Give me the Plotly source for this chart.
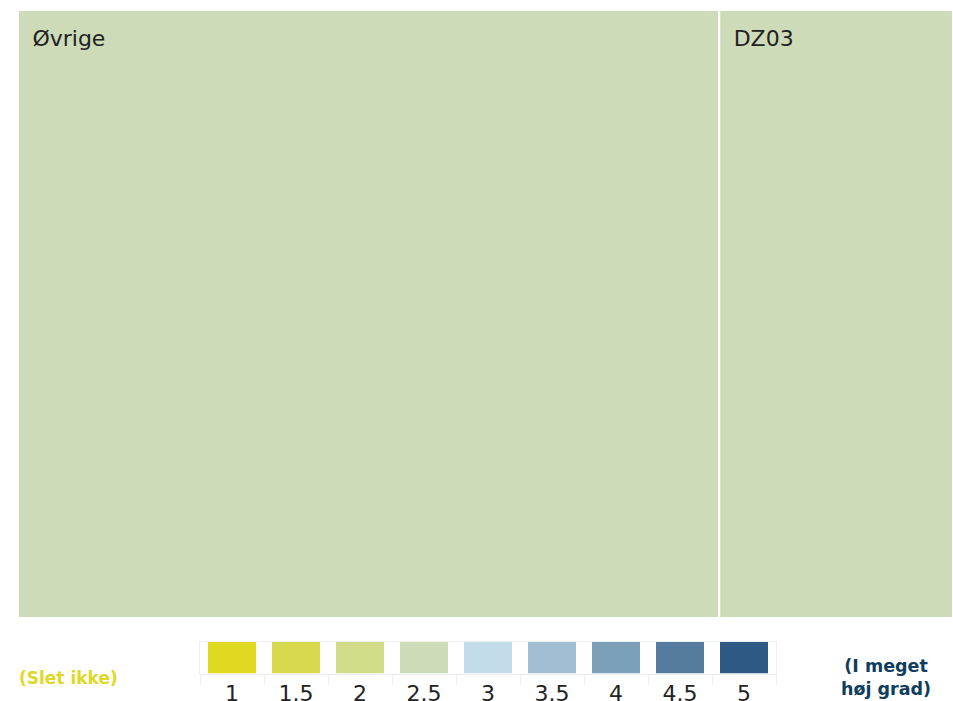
import plotly.graph_objects as go

# treemap data
labels = ["Øvrige", "DZ03"]
values = [3, 1]
scores = [2.5, 2.5]

# legend scale
scale_steps = ["1", "1.5", "2", "2.5", "3", "3.5", "4", "4.5", "5"]
scale_colors = ["#e1d91f", "#d9d94f", "#d3dc89", "#cddbb8", "#c3dcea",
                "#a2bed3", "#7c9fba", "#557c9f", "#2e5984"]
step_color = dict(zip(scale_steps, scale_colors))

W, H = 953, 701
fig = go.Figure()

fig.add_trace(go.Treemap(
    labels=labels,
    parents=["", ""],
    values=values,
    marker=dict(colors=[step_color[f"{s:g}"] for s in scores],
                line=dict(color="white", width=2),
                pad=dict(t=0, l=0, r=0, b=0)),
    tiling=dict(pad=0),
    textposition="top left",
    textfont=dict(family="DejaVu Sans", size=22, color="#222222"),
    texttemplate="<span style='font-size:4px'>\u00a0</span><br>\u00a0\u2009%{label}",
    hoverinfo="label+value",
    pathbar=dict(visible=False),
    sort=True,
    domain=dict(x=[18 / W, 1], y=[1 - 618 / H, 1 - 10 / H]),
))

# colour scale legend as a bar strip
fig.add_trace(go.Bar(
    x=scale_steps,
    y=[1] * len(scale_steps),
    marker=dict(color=scale_colors, line=dict(width=0)),
    width=0.75,
    hoverinfo="x",
    showlegend=False,
    xaxis="x", yaxis="y",
))

fig.update_layout(
    width=W, height=H,
    margin=dict(l=0, r=0, t=0, b=0, pad=0),
    paper_bgcolor="white",
    plot_bgcolor="white",
    showlegend=False,
    xaxis=dict(domain=[200 / W, 776 / W], type="category", automargin=False,
               tickson="boundaries", ticks="outside", ticklen=10,
               tickcolor="#eeeeee", showgrid=False,
               showline=True, linecolor="#eeeeee", mirror=True,
               tickfont=dict(family="DejaVu Sans", size=22, color="#222222")),
    yaxis=dict(domain=[1 - 673.5 / H, 1 - 642 / H], range=[0, 1], automargin=False,
               showticklabels=False, showgrid=False, zeroline=False,
               showline=True, linecolor="#eeeeee", mirror=True),
    annotations=[
        dict(x=17 / W, y=1 - 678 / H, xref="paper", yref="paper",
             xanchor="left", yanchor="middle", showarrow=False,
             text="<b>(Slet ikke)</b>",
             font=dict(family="DejaVu Sans", size=17, color="#e0d824")),
        dict(x=886 / W, y=1 - 677 / H, xref="paper", yref="paper",
             xanchor="center", yanchor="middle", showarrow=False,
             text="<b>(I meget<br>høj grad)</b>",
             font=dict(family="DejaVu Sans", size=17.5, color="#0e3d5e")),
    ],
)

page_fix = (
    "document.documentElement.style.overflow='hidden';"
    "document.body.style.margin='0px';"
    "document.body.style.overflow='hidden';"
    "document.body.style.height='701px';"
)
fig.write_html("out.html", config={"displayModeBar": False}, post_script=page_fix)
